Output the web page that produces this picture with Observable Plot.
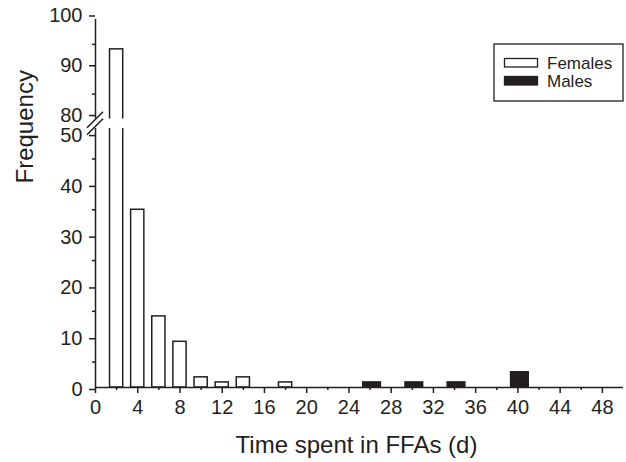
<!DOCTYPE html>
<html>
<head>
<meta charset="utf-8">
<script src="https://cdn.jsdelivr.net/npm/d3@7"></script>
<script src="https://cdn.jsdelivr.net/npm/@observablehq/plot@0.6"></script>
<style>
  html, body { margin: 0; padding: 0; background: #fff; }
  #chart { width: 626px; height: 462px; }
</style>
</head>
<body>
<div id="chart"></div>
<script>
// ---- data ----
const femaleDays = [2, 4, 6, 8, 10, 12, 14, 18];
const femaleFreq = [94, 35, 14, 9, 2, 1, 2, 1];
const maleDays = [26, 30, 34, 40];
const maleFreq = [1, 1, 1, 3];
const seriesNames = ["Females", "Males"];
const xTicks = [0, 4, 8, 12, 16, 20, 24, 28, 32, 36, 40, 44, 48];
const xMinorTicks = [2, 6, 10, 14, 18, 22, 26, 30, 34, 38, 42, 46];
const yTicksLower = [0, 10, 20, 30, 40, 50];
const yTicksUpper = [80, 90, 100];
const yMinorTicks = [5, 15, 25, 35, 45, 85, 95];
const xLabel = "Time spent in FFAs (d)";
const yLabel = "Frequency";

// broken y axis: lower segment 0..51, upper 80..100
const breakLow = 51, breakHigh = 80, yMax = 100;
// map values onto one continuous coordinate with a small gap between segments
const e = d3.scaleLinear().domain([0, breakLow, breakHigh, yMax]).range([0, breakLow, 52.87, 72.47]);

const ink = "#231f20";
const fw = 1.25, mw = 1.67;

const females = femaleDays.map((x, i) => ({x, n: femaleFreq[i]}));
const males = maleDays.map((x, i) => ({x, n: maleFreq[i]}));
const broken = females.filter(d => d.n > breakHigh);
const axisSegments = [{y1: 0, y2: breakLow}, {y1: breakHigh, y2: yMax}];
const fmt = new Map([...yTicksLower, ...yTicksUpper].map(v => [e(v), v]));

const plot = Plot.plot({
  width: 626, height: 462,
  marginLeft: 95, marginRight: 3, marginTop: 19, marginBottom: 75,
  style: {fontFamily: "'Liberation Sans', Arial, sans-serif", fontSize: "20px", color: ink, background: "white"},
  x: {domain: [0, 50]},
  y: {domain: [0, e(yMax)]},
  marks: [
    Plot.rect(females, {x1: d => d.x - fw / 2, x2: d => d.x + fw / 2, y1: () => 0, y2: d => e(d.n),
      fill: "white", stroke: ink, strokeWidth: 1.5}),
    Plot.rect(males, {x1: d => d.x - mw / 2, x2: d => d.x + mw / 2, y1: () => 0, y2: d => e(d.n),
      fill: ink, stroke: ink, strokeWidth: 1.5, dx: 2}),
    Plot.rect(broken, {x1: d => d.x - fw / 2 - 0.3, x2: d => d.x + fw / 2 + 0.3,
      y1: () => e(breakLow), y2: () => e(breakHigh), fill: "white"}),
    Plot.ruleY([0], {x1: 0, x2: 50, stroke: ink, strokeWidth: 1.5}),
    Plot.ruleX(axisSegments, {x: () => 0, y1: d => e(d.y1), y2: d => e(d.y2), stroke: ink, strokeWidth: 1.5}),
    Plot.axisX({ticks: xTicks, tickSize: 6, tickPadding: 6, label: null, strokeWidth: 1.5, fontSize: 20}),
    Plot.axisX({ticks: xMinorTicks, tickSize: 3, tickFormat: () => "", label: null, strokeWidth: 1.5}),
    Plot.axisY({ticks: yTicksLower.map(e), tickFormat: t => fmt.get(t), tickSize: 6, tickPadding: 7,
      label: null, strokeWidth: 1.5, fontSize: 20, dy: 2}),
    Plot.axisY({ticks: yTicksUpper.map(e), tickFormat: t => fmt.get(t), tickSize: 6, tickPadding: 7,
      label: null, strokeWidth: 1.5, fontSize: 20, dy: -3.5}),
    Plot.axisY({ticks: yMinorTicks.map(e), tickSize: 3, tickFormat: () => "", label: null, strokeWidth: 1.5}),
    Plot.text([xLabel], {text: d => d, frameAnchor: "bottom", dy: 58, dx: -3, fontSize: 24, lineAnchor: "middle", fill: ink}),
    Plot.text([yLabel], {text: d => d, frameAnchor: "left", rotate: -90, dx: -70, dy: -20, fontSize: 24, fill: ink})
  ]
});

document.getElementById("chart").appendChild(plot);

// axis break marks and legend
const svg = d3.select(plot);
const xs = plot.scale("x"), ys = plot.scale("y");
const x0 = xs.apply(0);
const ym = (ys.apply(e(breakLow)) + ys.apply(e(breakHigh))) / 2;
const g = svg.append("g").attr("stroke", ink).attr("stroke-width", 1.6);
[-3.5, 3.5].forEach(off => {
  g.append("line").attr("x1", x0 - 8).attr("y1", ym + off + 8)
    .attr("x2", x0 + 8).attr("y2", ym + off - 8);
});

const lg = svg.append("g").attr("font-family", "'Liberation Sans', Arial, sans-serif")
  .attr("text-anchor", "start");
lg.append("rect").attr("x", 494).attr("y", 44).attr("width", 129).attr("height", 57)
  .attr("fill", "white").attr("stroke", ink).attr("stroke-width", 1.3);
const fills = ["white", ink];
seriesNames.forEach((name, i) => {
  const y = 58.5 + i * 18;
  lg.append("rect").attr("x", 504.5).attr("y", y).attr("width", 33).attr("height", 8.5)
    .attr("fill", fills[i]).attr("stroke", ink).attr("stroke-width", 1.3);
  lg.append("text").attr("x", 547).attr("y", y + 10).attr("font-size", 17)
    .attr("text-anchor", "start").attr("fill", ink).text(name);
});
</script>
</body>
</html>
